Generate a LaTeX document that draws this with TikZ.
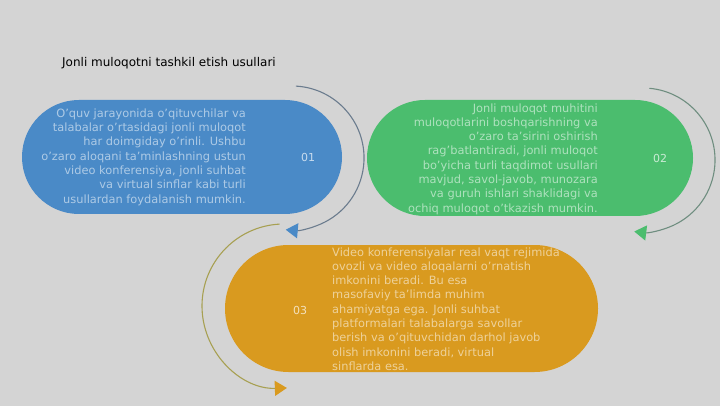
\documentclass[tikz,border=0pt]{standalone}
\usepackage{fontspec}
\setmainfont{DejaVu Sans}
\usetikzlibrary{arrows.meta}
\definecolor{bgc}{HTML}{D4D4D4}
\definecolor{bluec}{HTML}{4A8AC7}
\definecolor{greenc}{HTML}{4BBD6E}
\definecolor{orangec}{HTML}{D99A1F}
\definecolor{bluearc}{HTML}{6B7C8E}
\definecolor{greenarc}{HTML}{6F8E80}
\definecolor{orangearc}{HTML}{A7A052}
\tikzset{
  pill/.style={draw=none, minimum width=#1, inner sep=0pt},
  bodytext/.style={font=\fontsize{11.4}{14.3}\selectfont, text=white, text opacity=0.55, inner sep=0pt},
  numtext/.style={font=\fontsize{11}{12}\selectfont, text=white, text opacity=0.7, inner sep=0pt},
  cyc/.style={line width=1.1pt}
}
\begin{document}
\begin{tikzpicture}[x=1pt,y=-1pt]
\fill[bgc] (0,0) rectangle (720,406);
\useasboundingbox (0,0) rectangle (720,406);

\node[anchor=west, font=\fontsize{12}{13}\selectfont, inner sep=0pt] (title) at (62,63) {Jonli muloqotni tashkil etish usullari};

% pills
\node[pill=320pt, minimum height=114pt, fill=bluec, rounded corners=57pt] (p1) at (182,157) {};
\node[pill=326pt, minimum height=116pt, fill=greenc, rounded corners=58pt] (p2) at (530,158) {};
\node[pill=373pt, minimum height=127pt, fill=orangec, rounded corners=63.5pt] (p3) at (411.5,308.5) {};

% texts
\node[bodytext, align=right, anchor=east] (t1) at (246,157) {O'quv jarayonida o'qituvchilar va\\talabalar o'rtasidagi jonli muloqot\\har doimgiday o'rinli. Ushbu\\o'zaro aloqani ta'minlashning ustun\\video konferensiya, jonli suhbat\\va virtual sinflar kabi turli\\usullardan foydalanish mumkin.};
\node[bodytext, align=right, anchor=east] (t2) at (598,159) {Jonli muloqot muhitini\\muloqotlarini boshqarishning va\\o'zaro ta'sirini oshirish\\rag'batlantiradi, jonli muloqot\\bo'yicha turli taqdimot usullari\\mavjud, savol-javob, munozara\\va guruh ishlari shaklidagi va\\ochiq muloqot o'tkazish mumkin.};
\node[bodytext, align=left, anchor=west] (t3) at (332,309) {Video konferensiyalar real vaqt rejimida\\ovozli va video aloqalarni o'rnatish\\imkonini beradi. Bu esa\\masofaviy ta'limda muhim\\ahamiyatga ega. Jonli suhbat\\platformalari talabalarga savollar\\berish va o'qituvchidan darhol javob\\olish imkonini beradi, virtual\\sinflarda esa.};

\node[numtext] (n1) at (308,157) {01};
\node[numtext] (n2) at (660,158) {02};
\node[numtext] (n3) at (300,310) {03};

% cycle arrows
\coordinate (a1) at (295.8,86.1);
\coordinate (a2) at (649.3,88.3);
\coordinate (a3) at (279.7,224.1);
\draw[cyc, bluearc, -{Triangle[length=12pt,width=15pt,color=bluec]}] (a1) arc[start angle=-87, end angle=95, radius=72];
\draw[cyc, greenarc, -{Triangle[length=12pt,width=15pt,color=greenc]}] (a2) arc[start angle=-85, end angle=97, radius=72];
\draw[cyc, orangearc, -{Triangle[length=12pt,width=15pt,color=orangec]}] (a3) arc[start angle=-93, end angle=-272, radius=82];
\end{tikzpicture}
\end{document}
